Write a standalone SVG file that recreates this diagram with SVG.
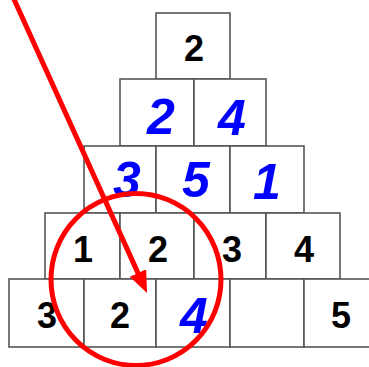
<svg xmlns="http://www.w3.org/2000/svg" width="369" height="367" viewBox="0 0 369 367">
<defs>
<style>
.box{fill:#fff;stroke:#555;stroke-width:1.6}
.k{font-family:"Liberation Sans",Arial,sans-serif;font-size:36px;font-weight:bold;fill:#000;text-anchor:middle}
.b{font-family:"Liberation Sans",Arial,sans-serif;font-size:50px;font-weight:bold;font-style:italic;fill:#0000ff;text-anchor:middle}
.red{fill:none;stroke:#ff0000;stroke-width:5}
</style>
<marker id="ah" markerUnits="userSpaceOnUse" markerWidth="24" markerHeight="20" refX="12" refY="9" orient="auto">
<path d="M0,0 L22,9 L0,18 Z" fill="#ff0000"/>
</marker>
</defs>
<rect width="369" height="367" fill="#fff"/>
<g id="row1">
<g id="n1"><rect class="box" x="156" y="13" width="74" height="66"/><text class="k" x="194" y="61">2</text></g>
</g>
<g id="row2">
<g id="n2"><rect class="box" x="120" y="79" width="74" height="67"/><text class="b" x="161" y="134">2</text></g>
<g id="n3"><rect class="box" x="194" y="79" width="72" height="67"/><text class="b" x="232" y="135">4</text></g>
</g>
<g id="row3">
<g id="n4"><rect class="box" x="84" y="146" width="72" height="67"/><text class="b" x="127" y="197">3</text></g>
<g id="n5"><rect class="box" x="156" y="146" width="74" height="67"/><text class="b" x="196" y="197">5</text></g>
<g id="n6"><rect class="box" x="230" y="146" width="74" height="67"/><text class="b" x="267" y="199">1</text></g>
</g>
<g id="row4">
<g id="n7"><rect class="box" x="45" y="213" width="75" height="66"/><text class="k" x="83" y="262">1</text></g>
<g id="n8"><rect class="box" x="120" y="213" width="74" height="66"/><text class="k" x="158" y="262">2</text></g>
<g id="n9"><rect class="box" x="194" y="213" width="72" height="66"/><text class="k" x="232" y="262">3</text></g>
<g id="n10"><rect class="box" x="266" y="213" width="74" height="66"/><text class="k" x="304" y="262">4</text></g>
</g>
<g id="row5">
<g id="n11"><rect class="box" x="9" y="279" width="75" height="68"/><text class="k" x="47" y="328">3</text></g>
<g id="n12"><rect class="box" x="84" y="279" width="72" height="68"/><text class="k" x="120" y="328">2</text></g>
<g id="n13"><rect class="box" x="156" y="279" width="74" height="68"/><text class="b" x="194" y="333">4</text></g>
<g id="n14"><rect class="box" x="230" y="279" width="74" height="68"/></g>
<g id="n15"><rect class="box" x="304" y="279" width="80" height="68"/><text class="k" x="341" y="328">5</text></g>
</g>
<g id="connectors">
<ellipse class="red" cx="136" cy="279.5" rx="85" ry="86"/>
<line class="red" x1="13" y1="-3" x2="142.9" y2="283.9" marker-end="url(#ah)"/>
</g>
</svg>
